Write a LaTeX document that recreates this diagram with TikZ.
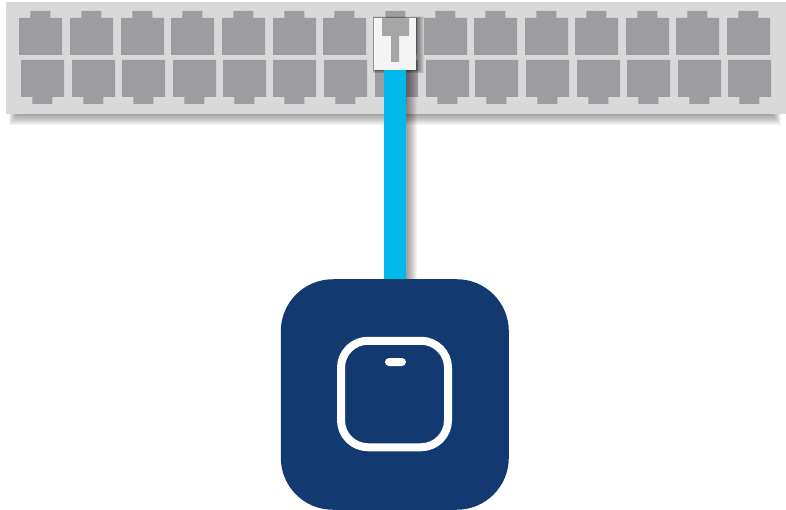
\documentclass[tikz,border=0pt]{standalone}
\definecolor{panelgray}{HTML}{D9D9D9}
\definecolor{portgray}{HTML}{9D9CA0}
\definecolor{plugwhite}{HTML}{F4F4F4}
\definecolor{pluggray}{HTML}{A6A6A6}
\definecolor{cableblue}{HTML}{00B9EB}
\definecolor{devblue}{HTML}{133A70}
\tikzset{
  panelbox/.style={fill=panelgray},
  portshape/.style={fill=portgray},
  softshadow/.style={fill=black,opacity=#1},
  plugbody/.style={rectangle,fill=plugwhite,minimum width=42pt,minimum height=52pt,inner sep=0pt},
  devicebox/.style={rectangle,fill=devblue,rounded corners=52pt,minimum width=228pt,minimum height=230.5pt,inner sep=0pt},
  devicering/.style={rectangle,draw=white,line width=8pt,rounded corners=27pt,minimum width=107pt,minimum height=106.5pt,inner sep=0pt},
  deviceled/.style={rectangle,fill=white,rounded corners=4pt,minimum width=21pt,minimum height=8pt,inner sep=0pt},
  cableline/.style={draw=cableblue,line width=22pt},
}
\begin{document}
\begin{tikzpicture}[x=1pt,y=-1pt]
\useasboundingbox (0,0) rectangle (786,510);
% panel shadow
\foreach \i in {0,...,11}
  \fill[softshadow=.04] ({9+0.8*\i},100) rectangle ({781-0.8*\i},{125-\i});
\fill[panelbox] (6,2) rectangle (786,114);
% top row of ports
\foreach \p in {19,70,121,171,222,273,323,374,424,474,525,575,626,676,727}
  \fill[portshape] (\p,18) -- ({\p+11.3},18) -- ({\p+11.3},11) -- ({\p+31.3},11) -- ({\p+31.3},18)
     -- ({\p+43},18) -- ({\p+43},55) -- (\p,55) -- cycle;
% bottom row of ports
\foreach \p in {21,72,122,173,223,273,324,375,426,475,526,577,627,678,728}
  \fill[portshape] (\p,60) -- ({\p+43},60) -- ({\p+43},97) -- ({\p+31.3},97) -- ({\p+31.3},104)
     -- ({\p+11.3},104) -- ({\p+11.3},97) -- (\p,97) -- cycle;
% cable shadow
\foreach \i in {0,...,9}
  \fill[softshadow=.045] (400,70) rectangle ({417-\i},280);
% plug shadow
\foreach \i in {0,...,7}
  \fill[softshadow=.07] ({372.5+0.2*\i},{16.5+0.2*\i}) rectangle ({424-\i},{73-0.4*\i});
% plug
\node[plugbody] (plug) at (395,44) {};
\fill[pluggray] (382,18) -- (409,18) -- (409,36) -- (399,36) -- (399,62) -- (391,62) -- (391,36) -- (382,36) -- cycle;
% device
\node[devicebox] (device) at (394.8,394.5) {};
\node[devicering] (ring) at (394.5,394) {};
\node[deviceled] (led) at (395.5,362) {};
% cable
\draw[cableline] (plug.south) -- (plug.south |- device.north);
\end{tikzpicture}
\end{document}
